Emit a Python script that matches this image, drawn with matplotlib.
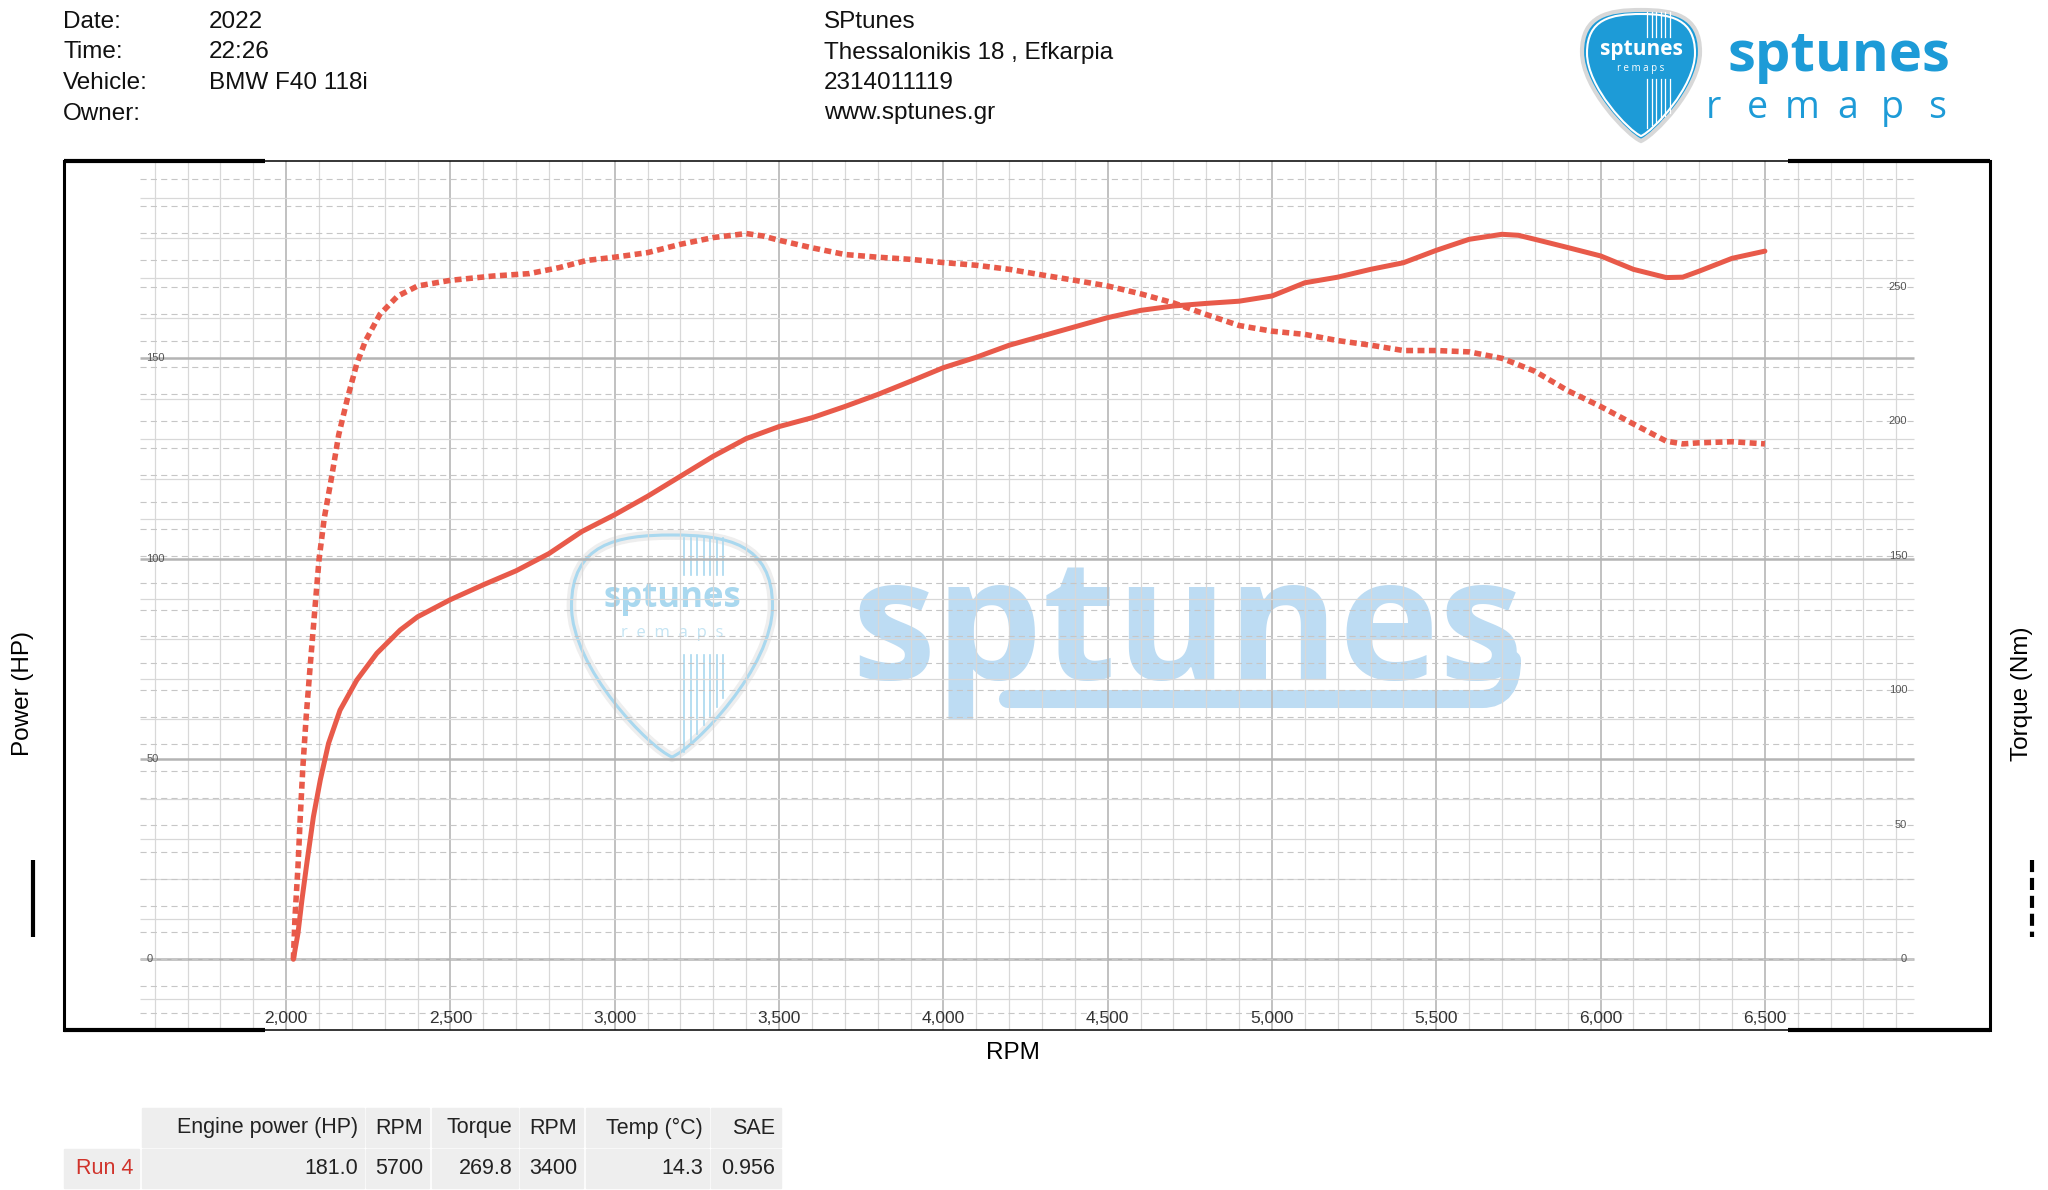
import matplotlib.pyplot as plt
from matplotlib.path import Path
from matplotlib.patches import PathPatch, Rectangle

plt.rcParams['font.family'] = ['Liberation Sans', 'DejaVu Sans']

# Run 4, values
power_rpm = [2022, 2036, 2048, 2063, 2083, 2104, 2129, 2164, 2215, 2276, 2347, 2400,
             2500, 2600, 2700, 2800, 2900, 3000, 3100, 3200, 3300, 3400, 3500, 3600,
             3700, 3800, 3900, 4000, 4100, 4200, 4300, 4400, 4500, 4600, 4700, 4800,
             4900, 5000, 5100, 5200, 5300, 5400, 5500, 5600, 5700, 5750, 5800, 5900,
             6000, 6100, 6200, 6250, 6300, 6400, 6500]
power_hp = [0, 6.5, 14.8, 24, 35.6, 44.8, 53.9, 62.2, 69.7, 76.4, 82.2, 85.5,
            89.8, 93.5, 97, 101.3, 106.8, 111, 115.6, 120.6, 125.6, 130, 133, 135.2,
            138, 141, 144.3, 147.7, 150.3, 153.3, 155.6, 157.9, 160.2, 162, 163.1, 163.75,
            164.3, 165.6, 168.9, 170.3, 172.25, 173.9, 177, 179.75, 181, 180.75, 179.75, 177.7,
            175.6, 172.25, 170.2, 170.3, 171.8, 175, 176.8]

torque_rpm = [2022, 2027, 2036, 2043, 2051, 2061, 2073, 2088, 2100, 2116, 2138, 2160,
              2187, 2214, 2241, 2285, 2339, 2400, 2500, 2630, 2740, 2830, 2915, 3000,
              3100, 3200, 3300, 3400, 3450, 3500, 3600, 3700, 3800, 3900, 4000, 4100,
              4200, 4300, 4400, 4500, 4600, 4700, 4800, 4900, 5000, 5100, 5200, 5300,
              5400, 5500, 5600, 5700, 5800, 5900, 6000, 6100, 6200, 6250, 6300, 6400, 6500]
torque_nm = [0, 15.8, 34.4, 53, 71.6, 90.2, 108.8, 131, 148.5, 164, 179, 195,
             208.7, 221, 229.8, 239.7, 246.5, 250.3, 252.4, 254, 254.9, 257.1, 259.8, 261,
             262.7, 265.8, 268.3, 269.8, 268.9, 267.3, 264.5, 262, 261, 260.2, 259, 258,
             256.5, 254.4, 252.4, 250.3, 247.4, 244, 239.7, 235.6, 233.5, 232.3, 230, 228.3,
             226.3, 226.3, 225.8, 223.4, 218.6, 211.4, 205.5, 199, 192.6, 191.6, 192, 192.4, 191.6]

rpm_ticks = [2000, 2500, 3000, 3500, 4000, 4500, 5000, 5500, 6000, 6500]
hp_ticks = [0, 50, 100, 150]
nm_ticks = [0, 50, 100, 150, 200, 250]

info_keys = ["Date:", "Time:", "Vehicle:", "Owner:"]
info_vals = ["2022", "22:26", "BMW F40 118i", ""]
shop_lines = ["SPtunes", "Thessalonikis 18 , Efkarpia", "2314011119", "www.sptunes.gr"]

table_head = ["Engine power (HP)", "RPM", "Torque", "RPM", "Temp (°C)", "SAE"]
table_vals = ["181.0", "5700", "269.8", "3400", "14.3", "0.956"]
run_name = "Run 4"

RED = '#e85a4a'
BLUE = '#1d9bd7'
PALE = '#bddcf3'
NM_PER_HP = 1.489
W, H = 2048, 1190

fig = plt.figure(figsize=(W / 100, H / 100), dpi=100)

# background layer in pixel coordinates: header, logos, watermark, table
bg = fig.add_axes([0, 0, 1, 1], zorder=0)
bg.set_xlim(0, W)
bg.set_ylim(H, 0)
bg.axis('off')


def pick(cx, top, w, h):
    u = [0, .55, 1, 1, 1, .22, 0, -.22, -1, -1, -1, -.55, 0]
    v = [0, 0, .04, .32, .6, .96, 1, .96, .6, .32, .04, 0, 0]
    verts = [(cx + a * w / 2, top + b * h) for a, b in zip(u, v)]
    return Path(verts, [Path.MOVETO] + [Path.CURVE4] * 12)


# header text
for i, (k, val) in enumerate(zip(info_keys, info_vals)):
    y = 22 + i * 30.5
    bg.text(63, y, k, fontsize=17.5, va='center', color='#111')
    bg.text(209, y, val, fontsize=17.5, va='center', color='#111')
for i, line in enumerate(shop_lines):
    bg.text(824, 22 + i * 30.5, line, fontsize=17.5, va='center', color='#111')

# logo, top right
bg.add_patch(PathPatch(pick(1641, 10, 118, 131), fc=BLUE, ec='#d8d8d8', lw=3))
bg.add_patch(PathPatch(pick(1641, 14, 108, 122), fc='none', ec='white', lw=1.5))
for k in range(6):
    x = 1647 + k * 4.6
    bg.plot([x, x], [12, 37], color='white', lw=0.9)
    bg.plot([x, x], [79, 128 - k * 3], color='white', lw=0.9)
bg.text(1641, 49, "sptunes", fontsize=15, weight='bold', color='white',
        ha='center', va='center', family=['Open Sans', 'DejaVu Sans'])
bg.text(1641, 68, "r e m a p s", fontsize=7, color='white',
        ha='center', va='center', family=['Open Sans', 'DejaVu Sans'])
bg.text(1727, 71, "sptunes", fontsize=40.5, weight='bold', color=BLUE,
        ha='left', va='baseline', family=['Open Sans', 'DejaVu Sans'])
for k, ch in enumerate("remaps"):
    bg.text(1713 + k * 44.8, 108, ch, fontsize=27, color=BLUE,
            ha='center', va='center', family=['Open Sans', 'DejaVu Sans'])

# watermark behind the grid
bg.add_patch(PathPatch(pick(672, 535, 201, 222), fc='none', ec='#eeeeee', lw=7))
bg.add_patch(PathPatch(pick(672, 535, 201, 222), fc='none', ec='#a9d8ef', lw=2.2))
for k in range(7):
    x = 684 + k * 6.5
    bg.plot([x, x], [538, 575], color='#a9d8ef', lw=1.2)
    bg.plot([x, x], [655, 752 - k * 9], color='#a9d8ef', lw=1.2)
bg.text(672, 598, "sptunes", fontsize=25, weight='bold', color='#a9d8ef',
        ha='center', va='center', family=['Open Sans', 'DejaVu Sans'])
bg.text(672, 633, "r  e  m  a  p  s", fontsize=12, color='#c4e4f3',
        ha='center', va='center', family=['Open Sans', 'DejaVu Sans'])
bg.text(851, 679, "sptunes", fontsize=122, weight='bold', color=PALE,
        ha='left', va='baseline', family=['Open Sans', 'DejaVu Sans'])
swoosh = Path([(1008, 699), (1482, 699), (1512, 699), (1512, 660)],
              [Path.MOVETO, Path.LINETO, Path.CURVE3, Path.CURVE3])
bg.add_patch(PathPatch(swoosh, fc='none', ec=PALE, lw=13, capstyle='round'))

# axis titles and legend strokes
bg.text(23, 694, "Power (HP)", rotation=90, fontsize=17.5, ha='center', va='center')
bg.text(2022, 694, "Torque (Nm)", rotation=90, fontsize=17.5, ha='center', va='center')
bg.text(1013, 1053, "RPM", fontsize=17.5, ha='center', va='center')
bg.plot([33, 33], [860, 937], color='black', lw=3, solid_capstyle='butt')
bg.plot([2032, 2032], [860, 937], color='black', lw=3, dashes=(2.9, 1.4))

# results table
cells = [(141.6, 364.2), (365.9, 429.2), (432, 518.3), (520, 583.3), (585.6, 709.2), (711, 781)]
for (x0, x1), head, val in zip(cells, table_head, table_vals):
    bg.add_patch(Rectangle((x0, 1108), x1 - x0, 39, color='#eeeeee'))
    bg.add_patch(Rectangle((x0, 1149), x1 - x0, 39, color='#eeeeee'))
    bg.text(x1 - 6, 1128, head, fontsize=15.5, ha='right', va='center', color='#222')
    bg.text(x1 - 6, 1169, val, fontsize=15.5, ha='right', va='center', color='#222')
bg.add_patch(Rectangle((64, 1149), 75, 39, color='#eeeeee'))
bg.text(133, 1169, run_name, fontsize=15.5, ha='right', va='center', color='#d0332b')

# main chart
ax = fig.add_axes([64 / W, 1 - 1030 / H, 1926 / W, 869 / H], zorder=1)
ax.patch.set_alpha(0)
ax.set_xlim(1324, 7185)
ax.set_ylim(-17.65, 199.3)
ax.set_xticks([])
ax.set_yticks([])
for side in ['left', 'right']:
    ax.spines[side].set_linewidth(2.2)
for side in ['top', 'bottom']:
    ax.spines[side].set_linewidth(1.1)
for y in [0, 1]:
    for x0, x1 in [(0, 0.1044), (0.8952, 1)]:
        ax.plot([x0, x1], [y, y], transform=ax.transAxes, color='black', lw=3,
                solid_capstyle='butt', clip_on=False)

x_lo, x_hi = 1556, 6953
for r in range(1600, 7000, 100):
    major = r % 500 == 0
    ax.axvline(r, color='#bcbcbc' if major else '#d8d8d8', lw=1.3 if major else 0.9, zorder=1)
for hp in range(-10, 200, 10):
    major = hp % 50 == 0
    ax.hlines(hp, x_lo, x_hi, color='#b4b4b4' if major else '#d8d8d8',
              lw=1.8 if major else 0.9, zorder=1)
for nm in range(-20, 300, 10):
    ax.hlines(nm / NM_PER_HP, x_lo, x_hi, color='#c6c6c6', lw=0.8,
              linestyles=[(0, (5.5, 3.8))], zorder=1)

for r in rpm_ticks:
    ax.text(r, 0.0127, f"{r:,}", transform=ax.get_xaxis_transform(), fontsize=12.5,
            ha='center', va='center', color='#333')
for hp in hp_ticks:
    ax.text(1574, hp, str(hp), fontsize=8, ha='left', va='center', color='#555')

ax.plot(power_rpm, power_hp, color=RED, lw=3.6, zorder=3, solid_capstyle='round')

ax2 = ax.twinx()
ax2.set_ylim(-17.65 * NM_PER_HP, 199.3 * NM_PER_HP)
ax2.set_yticks([])
for s in ax2.spines.values():
    s.set_visible(False)
for nm in nm_ticks:
    ax2.text(6933, nm, str(nm), fontsize=8, ha='right', va='center', color='#555')
ax2.plot(torque_rpm, torque_nm, color=RED, lw=4, linestyle=(0, (1.25, 0.8)))

fig.savefig('out.png', dpi=100)
